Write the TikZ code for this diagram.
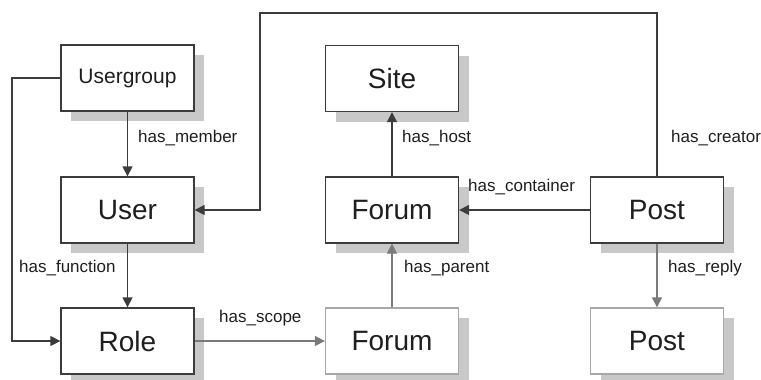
\documentclass[tikz,border=0pt]{standalone}
\usepackage{fontspec}
\setmainfont{Liberation Sans}
\usetikzlibrary{arrows.meta,shadows}
\definecolor{dk}{HTML}{3C3C3C}
\definecolor{lt}{HTML}{A8A8A8}
\definecolor{ltarr}{HTML}{7A7A7A}
\definecolor{shd}{HTML}{C8C8C8}
\definecolor{txt}{HTML}{1E1E1E}
\tikzset{
  entity/.style={draw=dk, line width=1.3pt, fill=white, minimum width=133pt, minimum height=66pt,
    inner sep=0pt, text=txt, font=\fontsize{28}{30}\selectfont,
    drop shadow={shadow xshift=10pt, shadow yshift=-10pt, fill=shd, opacity=1}},
  entitylt/.style={entity, draw=lt},
  conn/.style={draw=dk, line width=1.3pt, -{Triangle[length=10pt,width=10pt]}},
  connlt/.style={conn, draw=ltarr},
  lbl/.style={anchor=west, inner sep=0pt, text=txt, font=\fontsize{17}{19}\selectfont},
}
\begin{document}
\begin{tikzpicture}[x=1pt,y=-1pt]
\useasboundingbox (0,0) rectangle (761,380);
\node[entity, font=\fontsize{21}{23}\selectfont] (ug) at (127.5,78) {Usergroup};
\node[entity] (user) at (127.5,210) {User};
\node[entity] (role) at (127.5,341) {Role};
\node[entity] (site) at (392,78.5) {Site};
\node[entity] (forum) at (392,210) {Forum};
\node[entitylt] (forum2) at (392,341) {Forum};
\node[entity] (post) at (657,210) {Post};
\node[entitylt] (post2) at (657,341) {Post};
\coordinate (T) at (260,13);
\coordinate (L) at (12,78);
\draw[conn] (ug.south) -- (user.north);
\draw[conn] (user.south) -- (role.north);
\draw[conn] (ug.west) -- (L) |- (role.west);
\draw[conn] (post.north) -- (post.north |- T) -- (T) |- (user.east);
\draw[conn] (post.west) -- (forum.east);
\draw[conn] (forum.north) -- (site.south);
\draw[connlt] (forum2.north) -- (forum.south);
\draw[connlt] (role.east) -- (forum2.west);
\draw[connlt] (post.south) -- (post2.north);
\node[lbl] (l1) at (138,138) {has\_member};
\node[lbl] (l2) at (402,138) {has\_host};
\node[lbl] (l3) at (671,138) {has\_creator};
\node[lbl] (l4) at (468,187) {has\_container};
\node[lbl] (l5) at (19,268) {has\_function};
\node[lbl] (l6) at (404,268) {has\_parent};
\node[lbl] (l7) at (668,268) {has\_reply};
\node[lbl] (l8) at (219,318) {has\_scope};
\end{tikzpicture}
\end{document}
